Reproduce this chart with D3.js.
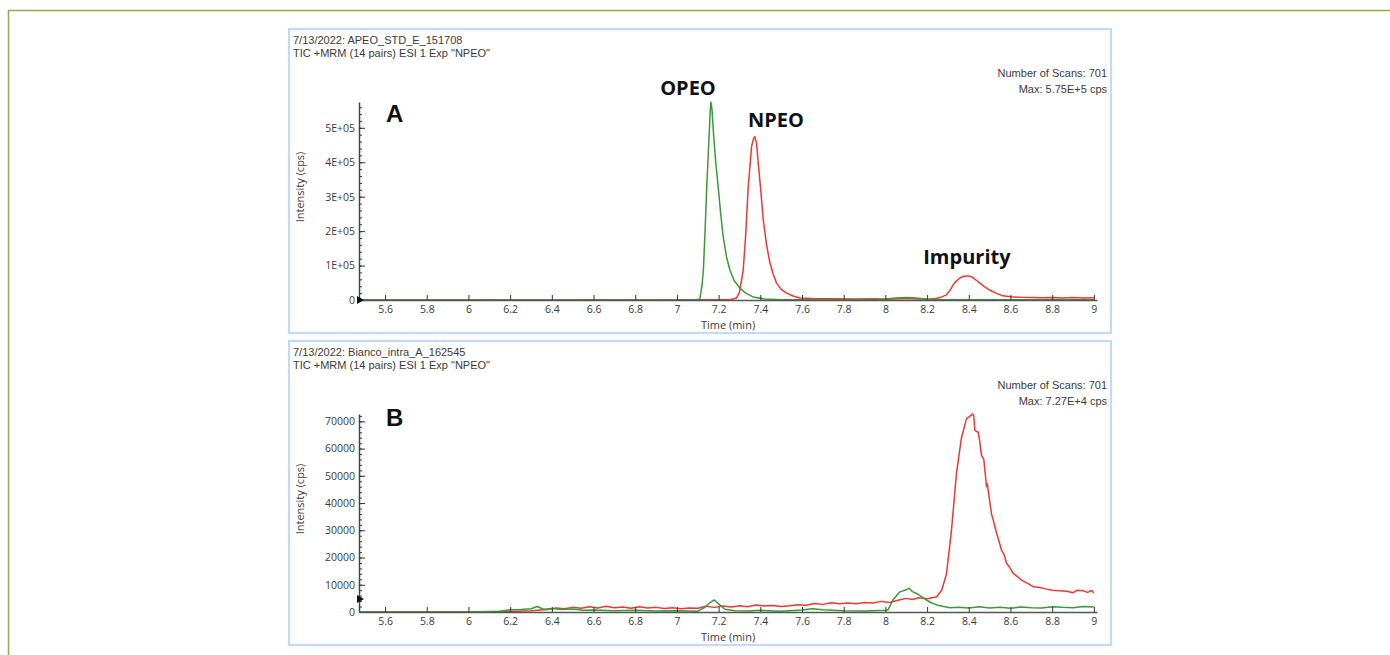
<!DOCTYPE html>
<html>
<head>
<meta charset="utf-8">
<script src="https://cdn.jsdelivr.net/npm/d3@7"></script>
<style>
  body { margin: 0; background: #fff; }
  svg { display: block; }
</style>
</head>
<body>
<svg id="chart" width="1390" height="655"></svg>
<script>
// ---------------- data ----------------
// shared time axis (min)
const timeDomain = [5.475, 9.015];
const timeTicks = [5.6, 5.8, 6, 6.2, 6.4, 6.6, 6.8, 7, 7.2, 7.4, 7.6, 7.8, 8, 8.2, 8.4, 8.6, 8.8, 9];
const timeTickLabels = ["5.6","5.8","6","6.2","6.4","6.6","6.8","7","7.2","7.4","7.6","7.8","8","8.2","8.4","8.6","8.8","9"];

// panel A: standard solution
const aSample = "7/13/2022: APEO_STD_E_151708";
const aMethod = 'TIC +MRM (14 pairs) ESI 1 Exp "NPEO"';
const aScans = "Number of Scans: 701";
const aMaxText = "Max: 5.75E+5 cps";
const aMax = 575000;
const aTicks = [0, 100000, 200000, 300000, 400000, 500000];
const aTickLabels = ["0", "1E+05", "2E+05", "3E+05", "4E+05", "5E+05"];

const aGreenTime = [5.475, 6.5, 7.0, 7.09, 7.11, 7.12, 7.127, 7.135, 7.143, 7.154, 7.16, 7.163, 7.168, 7.176, 7.186, 7.198, 7.21, 7.222, 7.238, 7.254, 7.275, 7.302, 7.33, 7.365, 7.42, 7.5, 7.8, 7.95, 8.0, 8.05, 8.1, 8.15, 8.2, 8.3, 8.6, 9.0];
const aGreenCps  = [0, 0, 0, 0, 3000, 40000, 87000, 200000, 328000, 474000, 550000, 575000, 555000, 480000, 400000, 328000, 250000, 183000, 125000, 87000, 56000, 35000, 20000, 9000, 3000, 1000, 500, 1000, 3000, 5500, 7000, 6000, 2500, 800, 500, 500];

const aRedTime = [5.475, 6.0, 6.1, 6.15, 6.3, 6.5, 6.55, 6.62, 6.7, 6.8, 6.86, 7.0, 7.1, 7.2, 7.26, 7.286, 7.3, 7.318, 7.33, 7.342, 7.358, 7.368, 7.374, 7.382, 7.39, 7.402, 7.414, 7.43, 7.446, 7.462, 7.478, 7.5, 7.526, 7.56, 7.59, 7.65, 7.75, 7.85, 7.95, 8.0, 8.05, 8.1, 8.15, 8.2, 8.24, 8.262, 8.293, 8.31, 8.325, 8.34, 8.357, 8.375, 8.398, 8.415, 8.435, 8.453, 8.475, 8.5, 8.53, 8.564, 8.6, 8.645, 8.7, 8.75, 8.8, 8.85, 8.9, 8.95, 9.0];
const aRedCps  = [0, 0, 600, 0, 300, 200, 900, 400, 300, 1000, 300, 500, 700, 600, 1500, 6000, 22000, 87000, 190000, 328000, 445000, 470000, 474000, 455000, 398000, 320000, 233000, 160000, 108000, 75000, 49000, 31000, 20000, 11000, 6000, 4000, 3500, 3000, 3500, 2500, 3000, 4000, 3000, 2500, 4000, 7000, 15000, 28000, 44000, 55000, 64000, 69000, 70000, 67000, 58000, 49000, 39000, 29000, 20000, 12000, 9500, 8000, 7000, 6500, 7500, 6000, 7000, 6000, 6500];

// panel B: blank sample
const bSample = "7/13/2022: Bianco_intra_A_162545";
const bMethod = 'TIC +MRM (14 pairs) ESI 1 Exp "NPEO"';
const bScans = "Number of Scans: 701";
const bMaxText = "Max: 7.27E+4 cps";
const bMax = 72700;
const bTicks = [0, 10000, 20000, 30000, 40000, 50000, 60000, 70000];
const bTickLabels = ["0", "10000", "20000", "30000", "40000", "50000", "60000", "70000"];

const bGreenTime = [5.475, 6.0, 6.15, 6.2, 6.25, 6.3, 6.33, 6.36, 6.4, 6.45, 6.5, 6.55, 6.6, 6.7, 6.8, 6.9, 7.0, 7.1, 7.13, 7.16, 7.18, 7.2, 7.23, 7.28, 7.35, 7.4, 7.5, 7.6, 7.65, 7.7, 7.8, 7.9, 8.0, 8.012, 8.036, 8.07, 8.1, 8.113, 8.13, 8.149, 8.17, 8.197, 8.22, 8.246, 8.28, 8.309, 8.35, 8.4, 8.45, 8.5, 8.55, 8.6, 8.65, 8.7, 8.75, 8.8, 8.85, 8.9, 8.95, 9.0];
const bGreenCps  = [0, 0, 300, 800, 900, 1200, 2000, 1000, 1300, 900, 1100, 600, 700, 500, 600, 400, 500, 300, 1500, 3500, 4400, 3000, 1000, 500, 400, 600, 300, 700, 1200, 800, 500, 400, 600, 700, 4400, 7400, 8200, 8700, 7500, 6800, 5800, 4400, 3400, 2600, 2000, 1600, 1700, 1500, 1900, 1500, 1700, 1400, 1800, 1600, 1500, 1900, 1700, 1600, 2000, 1800];

const bRedTime = [5.475, 5.8, 6.0, 6.2, 6.3, 6.38, 6.42, 6.46, 6.5, 6.54, 6.58, 6.62, 6.66, 6.7, 6.74, 6.78, 6.82, 6.86, 6.9, 6.94, 6.98, 7.02, 7.06, 7.1, 7.14, 7.18, 7.22, 7.26, 7.3, 7.34, 7.38, 7.42, 7.46, 7.5, 7.54, 7.58, 7.62, 7.66, 7.7, 7.74, 7.78, 7.82, 7.86, 7.9, 7.94, 7.98, 8.02, 8.06, 8.1, 8.13, 8.16, 8.2, 8.23, 8.246, 8.27, 8.293, 8.317, 8.341, 8.365, 8.389, 8.408, 8.418, 8.424, 8.429, 8.445, 8.452, 8.461, 8.472, 8.48, 8.485, 8.489, 8.493, 8.509, 8.52, 8.533, 8.545, 8.557, 8.57, 8.581, 8.595, 8.613, 8.63, 8.653, 8.68, 8.709, 8.74, 8.773, 8.8, 8.837, 8.87, 8.901, 8.92, 8.949, 8.97, 8.99, 9.0];
const bRedCps  = [0, 0, 0, 200, 500, 900, 1500, 1200, 1700, 1400, 1900, 1500, 2100, 1600, 1800, 1400, 1900, 1500, 1700, 1300, 1600, 1200, 1500, 1400, 2100, 1700, 2200, 1800, 2300, 1900, 2600, 2200, 2400, 2000, 2300, 2700, 2500, 3100, 2800, 3400, 3000, 3300, 3000, 3500, 3300, 3900, 3500, 4300, 5000, 4600, 5200, 4900, 5300, 5600, 8000, 14000, 30000, 51000, 64000, 71000, 72000, 72700, 72000, 66700, 66000, 63000, 57500, 56000, 50000, 46000, 47000, 44700, 36000, 33000, 29000, 26000, 22700, 21000, 17900, 16500, 14200, 13200, 11700, 10600, 9300, 9000, 8400, 8000, 7800, 7600, 7100, 8000, 7800, 7200, 7900, 7000];

// peak annotations in panel A
const aPeakNames = ["OPEO", "NPEO", "Impurity"];
const aPeakTimes = [7.163, 7.374, 8.398];
const aPeakCps = [575000, 474000, 70000];

// ---------------- drawing ----------------
const svg = d3.select("#chart");
const W = 1390, H = 655;
svg.append("rect").attr("width", W).attr("height", H).attr("fill", "#fff");

// outer figure frame
svg.append("path")
  .attr("d", `M8.5,${H} L8.5,10.5 L${W},10.5`)
  .attr("fill", "none").attr("stroke", "#8ea75a").attr("stroke-width", 1.5);

const RED = "#f23535", GREEN = "#3a9a3a";
const TXT = "#3a3a3a";
const sans = "'Open Sans', 'Noto Sans', sans-serif";
const hdrFont = "'Liberation Sans', Arial, sans-serif";

const x = d3.scaleLinear().domain(timeDomain).range([359, 1097]);

const panels = [
  { top: 0, sample: aSample, method: aMethod, scans: aScans, maxText: aMaxText, yMax: aMax,
    ticks: aTicks, labels: aTickLabels, minorStep: 20000, letter: "A", letterY: 122, markerCps: 0,
    series: [[aRedTime, aRedCps, RED], [aGreenTime, aGreenCps, GREEN]] },
  { top: 312, sample: bSample, method: bMethod, scans: bScans, maxText: bMaxText, yMax: bMax,
    ticks: bTicks, labels: bTickLabels, minorStep: 2000, letter: "B", letterY: 114, markerCps: 4800,
    series: [[bRedTime, bRedCps, RED], [bGreenTime, bGreenCps, GREEN]] }
];

panels.forEach((p, pi) => {
  const g = svg.append("g").attr("transform", `translate(0,${p.top})`);

  // panel frame
  g.append("rect")
    .attr("x", 289).attr("y", 29).attr("width", 822).attr("height", 304)
    .attr("fill", "#fff").attr("stroke", "#c3daf6").attr("stroke-width", 2.2);

  // header: sample name and acquisition method
  g.append("text").attr("x", 293).attr("y", 44).text(p.sample)
    .attr("font-family", hdrFont).attr("font-size", 11).attr("fill", TXT);
  g.append("text").attr("x", 293).attr("y", 56.6).text(p.method)
    .attr("font-family", hdrFont).attr("font-size", 11).attr("fill", TXT);

  // scan summary, right aligned
  g.append("text").attr("x", 1107).attr("y", 77).attr("text-anchor", "end").text(p.scans)
    .attr("font-family", hdrFont).attr("font-size", 11).attr("fill", TXT);
  g.append("text").attr("x", 1107).attr("y", 93).attr("text-anchor", "end").text(p.maxText)
    .attr("font-family", hdrFont).attr("font-size", 11).attr("fill", TXT);

  const y = d3.scaleLinear().domain([0, p.yMax]).range([300, 102]);

  // traces
  const line = d3.line().x(d => x(d[0])).y(d => y(d[1]));
  p.series.forEach(([ts, vs, col]) => {
    g.append("path")
      .datum(ts.map((t, i) => [t, vs[i]]))
      .attr("d", line)
      .attr("fill", "none").attr("stroke", col).attr("stroke-width", 1.5)
      .attr("stroke-linejoin", "round");
  });

  // y axis: minor ticks
  g.append("g").attr("transform", "translate(359,0)")
    .call(d3.axisLeft(y).tickValues(d3.range(0, p.yMax, p.minorStep)).tickSizeInner(-3).tickSizeOuter(0).tickFormat(""))
    .call(s => s.select(".domain").remove())
    .call(s => s.selectAll("line").attr("stroke", "#333").attr("stroke-width", 1));

  // y axis: major ticks and labels
  const yAxis = d3.axisLeft(y).tickValues(p.ticks)
    .tickFormat((d, i) => p.labels[i]).tickSizeInner(-6).tickSizeOuter(0).tickPadding(4);
  const ya = g.append("g").attr("transform", "translate(359,0)").call(yAxis);
  ya.select(".domain").attr("stroke", "#444").attr("stroke-width", 1.5);
  ya.selectAll("line").attr("stroke", "#333").attr("stroke-width", 1);
  ya.selectAll("text").attr("font-family", sans).attr("font-size", 10.5).attr("fill", TXT);

  // x axis
  const xAxis = d3.axisBottom(x).tickValues(timeTicks)
    .tickFormat((d, i) => timeTickLabels[i]).tickSizeInner(-5).tickSizeOuter(0).tickPadding(6);
  const xa = g.append("g").attr("transform", "translate(0,300)").call(xAxis);
  xa.select(".domain").attr("stroke", "#555").attr("stroke-width", 1.6);
  xa.selectAll("line").attr("stroke", "#333").attr("stroke-width", 1);
  xa.selectAll("text").attr("font-family", sans).attr("font-size", 10.5).attr("fill", TXT);

  // axis titles
  g.append("text").attr("x", 728).attr("y", 329).attr("text-anchor", "middle").text("Time (min)")
    .attr("font-family", sans).attr("font-size", 11).attr("fill", TXT);
  g.append("text").attr("transform", "translate(304,187) rotate(-90)")
    .attr("text-anchor", "middle").text("Intensity (cps)")
    .attr("font-family", sans).attr("font-size", 11).attr("fill", TXT);

  // baseline marker on the intensity axis
  const my = y(p.markerCps);
  g.append("path").attr("d", `M357,${my - 4} L364,${my} L357,${my + 4} Z`).attr("fill", "#111");

  // panel letter
  g.append("text").attr("x", 386).attr("y", p.letterY).text(p.letter)
    .attr("font-family", "'Liberation Sans', Arial, sans-serif").attr("font-weight", "bold")
    .attr("font-size", 24).attr("fill", "#111");

  // peak names
  if (pi === 0) {
    const offs = [[-0.11, -7], [0.101, -10], [-0.007, -12]];
    aPeakNames.forEach((name, i) => {
      g.append("text")
        .attr("x", x(aPeakTimes[i] + offs[i][0]))
        .attr("y", y(aPeakCps[i]) + offs[i][1])
        .attr("text-anchor", "middle").text(name)
        .attr("font-family", sans).attr("font-weight", "bold")
        .attr("font-size", 20).attr("fill", "#111");
    });
  }
});
</script>
</body>
</html>
